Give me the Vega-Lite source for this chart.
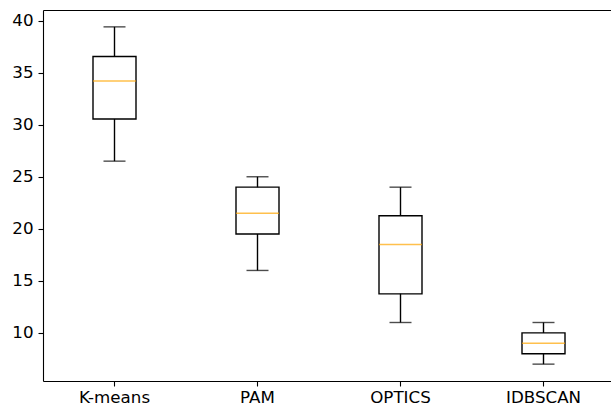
{
  "$schema": "https://vega.github.io/schema/vega-lite/v6.json",
  "width": 572,
  "height": 371,
  "autosize": {"type": "none"},
  "padding": {"left": 43, "top": 10, "right": 0, "bottom": 30},
  "background": "white",
  "config": {
    "view": {"stroke": null},
    "font": "DejaVu Sans",
    "axis": {
      "domainColor": "black",
      "domainWidth": 1.1,
      "tickColor": "black",
      "tickWidth": 1.1,
      "tickSize": 5,
      "labelColor": "black",
      "labelFont": "DejaVu Sans",
      "labelFontSize": 16.7,
      "labelPadding": 5,
      "grid": false,
      "title": null
    }
  },
  "data": {
    "values": [
      {"method": "K-means", "lower": 26.5, "q1": 30.55, "median": 34.2, "q3": 36.55, "upper": 39.4},
      {"method": "PAM", "lower": 16.0, "q1": 19.5, "median": 21.5, "q3": 24.0, "upper": 25.0},
      {"method": "OPTICS", "lower": 11.0, "q1": 13.75, "median": 18.5, "q3": 21.25, "upper": 24.0},
      {"method": "IDBSCAN", "lower": 7.0, "q1": 8.0, "median": 9.0, "q3": 10.0, "upper": 11.0}
    ]
  },
  "resolve": {"axis": {"x": "independent"}},
  "layer": [
    {
      "mark": {"type": "rule", "color": "black", "strokeWidth": 1.4},
      "encoding": {
        "x": {"field": "method", "type": "nominal", "sort": ["K-means", "PAM", "OPTICS", "IDBSCAN"], "scale": {"type": "band", "paddingInner": 0, "paddingOuter": 0}, "axis": {"orient": "top", "labels": false, "ticks": false, "domain": true}},
        "y": {"field": "lower", "type": "quantitative", "scale": {"domain": [5.38, 41.02], "nice": false, "zero": false}, "axis": {"values": [10, 15, 20, 25, 30, 35, 40]}},
        "y2": {"field": "upper"}
      }
    },
    {
      "mark": {"type": "bar", "size": 43, "fill": "white", "stroke": "black", "strokeWidth": 1.4},
      "encoding": {
        "x": {"field": "method", "type": "nominal", "sort": ["K-means", "PAM", "OPTICS", "IDBSCAN"], "axis": {"orient": "bottom", "labelAngle": 0, "labelPadding": 3}},
        "y": {"field": "q1", "type": "quantitative"},
        "y2": {"field": "q3"}
      }
    },
    {
      "mark": {"type": "tick", "size": 43, "thickness": 1.4, "color": "#ffa500"},
      "encoding": {
        "x": {"field": "method", "type": "nominal", "sort": ["K-means", "PAM", "OPTICS", "IDBSCAN"], "axis": null},
        "y": {"field": "median", "type": "quantitative"}
      }
    },
    {
      "mark": {"type": "tick", "size": 22, "thickness": 1.4, "color": "black"},
      "encoding": {
        "x": {"field": "method", "type": "nominal", "sort": ["K-means", "PAM", "OPTICS", "IDBSCAN"], "axis": null},
        "y": {"field": "lower", "type": "quantitative"}
      }
    },
    {
      "mark": {"type": "tick", "size": 22, "thickness": 1.4, "color": "black"},
      "encoding": {
        "x": {"field": "method", "type": "nominal", "sort": ["K-means", "PAM", "OPTICS", "IDBSCAN"], "axis": null},
        "y": {"field": "upper", "type": "quantitative"}
      }
    }
  ]
}
